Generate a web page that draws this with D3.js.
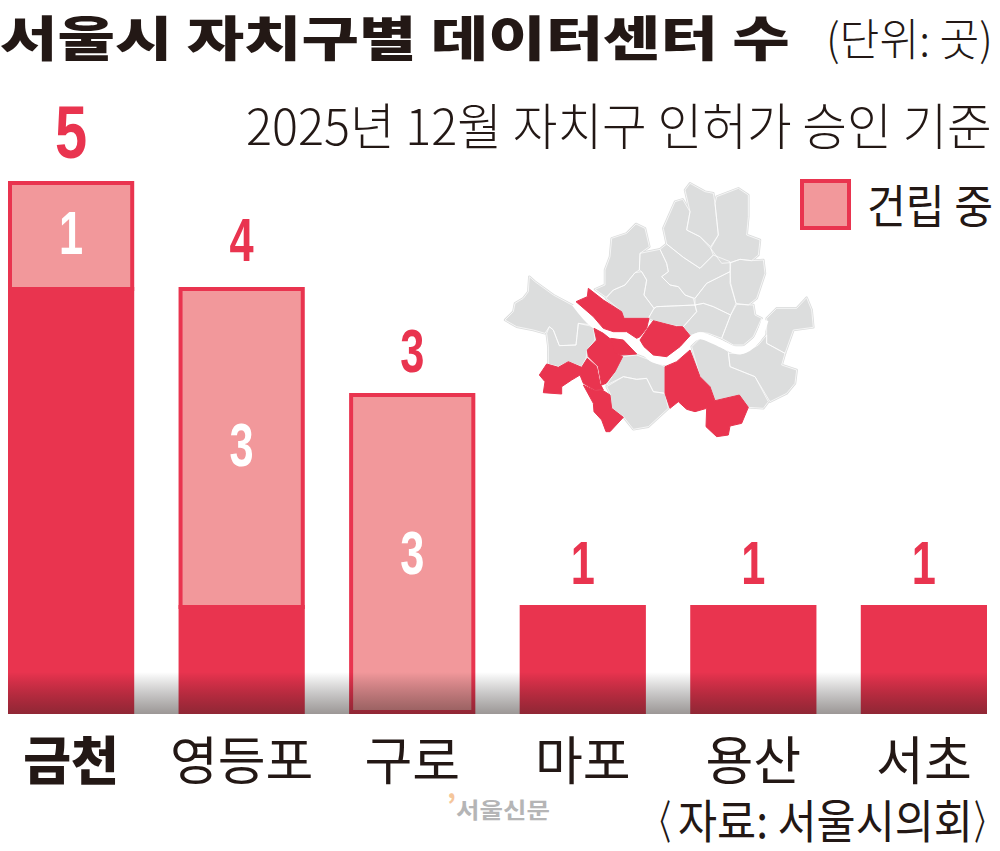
<!DOCTYPE html>
<html>
<head>
<meta charset="utf-8">
<script src="https://d3js.org/d3.v7.min.js"></script>
<style>
html, body { margin: 0; padding: 0; background: #fff; }
svg { display: block; }
text { font-family: "Noto Sans CJK KR", "Noto Sans", sans-serif; fill: #231815; }
</style>
</head>
<body>
<svg id="chart" width="1000" height="851"></svg>
<script>
var categories = ["금천", "영등포", "구로", "마포", "용산", "서초"];
var operating = [4, 1, 0, 1, 1, 1];
var building = [1, 3, 3, 0, 0, 0];
var tickValues = [0, 1, 5];

// map outlines (trace units, 3 per pixel)
var grayDistricts = [
	[[15,450],[40,425],[45,400],[70,385],[85,365],[88,320],[105,335],[160,375],[225,410],[280,465],[235,460],[228,525],[178,527],[160,480],[148,470],[135,490],[100,480],[50,470]],
	[[148,470],[160,480],[178,527],[228,525],[235,460],[280,470],[285,510],[262,540],[258,565],[245,590],[205,575],[175,590],[145,582],[145,530],[140,490]],
	[[335,205],[380,190],[408,162],[435,175],[448,230],[420,250],[418,300],[405,308],[375,345],[340,360],[318,382],[285,358],[315,345],[315,300],[330,260]],
	[[340,360],[375,345],[405,308],[425,305],[440,330],[432,375],[462,415],[445,445],[372,445],[365,425],[318,385]],
	[[420,250],[480,238],[500,280],[505,305],[485,320],[510,345],[535,350],[555,375],[580,385],[585,405],[470,410],[462,415],[432,375],[440,330],[425,305],[418,300]],
	[[462,415],[470,410],[585,405],[590,425],[550,470],[530,468],[490,460],[460,452],[445,445]],
	[[480,238],[500,222],[550,262],[600,295],[640,255],[690,275],[690,305],[620,340],[585,385],[555,375],[535,350],[510,345],[485,320],[505,305],[500,280]],
	[[490,175],[525,95],[548,88],[570,125],[560,180],[600,200],[632,235],[640,255],[600,295],[550,262],[500,222]],
	[[555,60],[570,40],[615,65],[640,70],[645,100],[655,195],[632,230],[600,200],[560,180],[570,125]],
	[[650,80],[715,55],[745,75],[745,140],[740,195],[780,210],[775,255],[755,272],[720,268],[690,278],[665,280],[632,235],[655,195],[645,100]],
	[[692,278],[720,268],[755,272],[790,270],[795,310],[770,385],[745,405],[708,400],[690,340]],
	[[690,305],[692,340],[708,400],[692,435],[640,410],[610,400],[585,405],[585,385],[620,340]],
	[[585,405],[610,400],[640,410],[692,435],[665,505],[625,490],[600,487],[570,497],[550,470],[590,425]],
	[[710,403],[760,405],[765,435],[785,445],[760,500],[730,525],[700,525],[665,505],[692,435]],
	[[800,490],[800,445],[830,415],[890,415],[920,383],[935,420],[940,472],[880,480],[855,550],[800,520]],
	[[685,550],[730,550],[775,525],[800,495],[800,520],[855,550],[845,585],[890,600],[885,640],[860,670],[810,695],[765,620],[690,590]],
	[[575,530],[600,505],[640,515],[685,545],[690,590],[765,620],[805,695],[790,715],[745,712],[718,675],[645,692],[630,650],[600,620]],
	[[345,605],[368,560],[410,555],[450,570],[495,590],[495,670],[460,665],[440,625],[410,628],[370,620],[320,645]],
	[[320,650],[370,620],[410,628],[440,625],[460,665],[495,670],[505,715],[445,770],[400,778],[370,740],[335,715],[330,670]]
];
var redDistricts = [
	[[118,615],[140,582],[175,592],[205,575],[245,592],[262,565],[290,590],[300,640],[310,660],[280,658],[250,640],[240,615],[215,630],[185,650],[185,672],[130,668],[135,635]],
	[[250,645],[280,660],[310,662],[330,675],[335,715],[370,742],[330,785],[318,785],[305,750],[282,725],[280,700]],
	[[282,475],[310,490],[335,510],[345,545],[368,560],[345,605],[318,640],[305,645],[295,590],[265,560],[262,540],[290,510]],
	[[332,505],[370,510],[410,552],[365,555],[345,548]],
	[[228,395],[262,380],[265,355],[310,390],[365,425],[372,445],[447,445],[440,475],[420,500],[410,505],[380,485],[340,485],[310,475],[280,440]],
	[[420,510],[450,465],[460,452],[490,460],[530,470],[548,470],[570,497],[540,530],[500,560],[460,555],[432,530]],
	[[495,590],[530,575],[570,540],[600,620],[630,650],[645,692],[718,675],[745,712],[725,760],[690,768],[685,795],[650,800],[618,770],[620,715],[585,725],[560,718],[535,695],[510,715],[495,670]]
];
var river = [[225,400],[280,462],[340,492],[395,500],[425,535],[460,567],[510,572],[570,512],[600,497],[670,525],[720,543],[770,510],[795,450]];

var RED = "#e9344f";
var PINK = "#f2989b";
var svg = d3.select("#chart");
var totals = categories.map(function(c, i) { return operating[i] + building[i]; });

var x = d3.scaleBand().domain(categories).range([8, 987]).paddingInner(0.26).paddingOuter(0);
var y = d3.scaleLinear().domain(tickValues).range([714, 605, 181]);

// puts text so that it is exactly len wide, squeezing it sideways like the print type
function label(txt, px, py, size, len, weight, color)
{
	var t = svg.append("text")
		.attr("font-size", size)
		.attr("font-weight", weight || 400)
		.style("fill", color || "#231815")
		.text(txt);
	var natural = t.node().getComputedTextLength();
	t.attr("transform", "translate(" + px + "," + py + ") scale(" + (len / natural) + ",1)");
	return t;
}

var defs = svg.append("defs");
var grad = defs.append("linearGradient").attr("id", "floor").attr("x1", 0).attr("y1", 0).attr("x2", 0).attr("y2", 1);
grad.append("stop").attr("offset", "0%").attr("stop-color", "#000").attr("stop-opacity", 0);
grad.append("stop").attr("offset", "100%").attr("stop-color", "#231815").attr("stop-opacity", 0.45);

// map
var mapX = d3.scaleLinear().domain([0, 960]).range([500, 820]);
var mapY = d3.scaleLinear().domain([0, 840]).range([170, 450]);
var outline = d3.line().x(function(d) { return mapX(d[0]); }).y(function(d) { return mapY(d[1]); }).curve(d3.curveLinearClosed);
var riverLine = d3.line().x(function(d) { return mapX(d[0]); }).y(function(d) { return mapY(d[1]); }).curve(d3.curveCatmullRom);

svg.append("g").selectAll("path").data(grayDistricts).enter().append("path")
	.attr("d", outline).attr("fill", "#dcdddd").attr("stroke", "#dcdddd").attr("stroke-width", 2.5).attr("stroke-linejoin", "round");
svg.append("path").attr("d", riverLine(river)).attr("fill", "none").attr("stroke", "#fff").attr("stroke-width", 7);
svg.append("g").selectAll("path").data(grayDistricts).enter().append("path")
	.attr("d", outline).attr("fill", "none").attr("stroke", "#fff").attr("stroke-width", 0.7);
svg.append("g").selectAll("path").data(redDistricts).enter().append("path")
	.attr("d", outline).attr("fill", RED).attr("stroke", RED).attr("stroke-width", 1);

// bars
svg.append("g").selectAll("rect").data(categories).enter().append("rect")
	.attr("x", function(d) { return x(d); })
	.attr("width", x.bandwidth())
	.attr("y", function(d, i) { return y(operating[i]); })
	.attr("height", function(d, i) { return y(0) - y(operating[i]); })
	.attr("fill", RED);

var bld = categories.filter(function(c, i) { return building[i] > 0; });
svg.append("g").selectAll("rect").data(bld).enter().append("rect")
	.attr("x", function(d) { return x(d) + 2; })
	.attr("width", x.bandwidth() - 4)
	.attr("y", function(d) { return y(totals[categories.indexOf(d)]) + 2; })
	.attr("height", function(d) {
		var i = categories.indexOf(d);
		// bottom stroke sinks into the solid part when there is one
		return y(operating[i]) - y(totals[i]) - (operating[i] > 0 ? 0 : 4);
	})
	.attr("fill", PINK).attr("stroke", RED).attr("stroke-width", 4);

// shadow along the floor
var floorTop = 672;
svg.append("rect")
	.attr("x", x.range()[0]).attr("width", x.range()[1] - x.range()[0])
	.attr("y", floorTop).attr("height", y(0) - floorTop)
	.attr("fill", "url(#floor)");

// totals above bars and white counts inside
var NUMFONT = '"Liberation Sans", sans-serif';
svg.append("g").selectAll("text").data(categories).enter().append("text")
	.attr("transform", function(d, i) {
		var gap = i == 0 ? 23 : (i == 1 ? 26 : 21);
		return "translate(" + (x(d) + x.bandwidth() / 2) + "," + (y(totals[i]) - gap) + ") scale(" + (i == 0 ? 0.78 : 0.7) + ",1)";
	})
	.attr("text-anchor", "middle")
	.attr("font-size", function(d, i) { return i == 0 ? 74 : 62; })
	.attr("font-weight", 700)
	.style("font-family", NUMFONT)
	.style("fill", RED)
	.text(function(d, i) { return totals[i]; });

svg.append("g").selectAll("text").data(bld).enter().append("text")
	.attr("transform", function(d) {
		var i = categories.indexOf(d);
		return "translate(" + (x(d) + x.bandwidth() / 2) + "," + ((y(operating[i]) + y(totals[i])) / 2 + 20) + ") scale(0.7,1)";
	})
	.attr("text-anchor", "middle")
	.attr("font-size", 62)
	.attr("font-weight", 700)
	.style("font-family", NUMFONT)
	.style("fill", "#fff")
	.text(function(d) { return building[categories.indexOf(d)]; });

// category axis
var axis = svg.append("g").attr("transform", "translate(0," + y(0) + ")")
	.call(d3.axisBottom(x).tickSize(0).tickPadding(29));
axis.select(".domain").remove();
axis.selectAll("text")
	.attr("font-size", 52)
	.style("font-family", '"Noto Sans CJK KR", sans-serif')
	.style("font-weight", function(d) { return d == "금천" ? 900 : 400; })
	.style("fill", "#231815");

// titles
label("서울시 자치구별 데이터센터 수", 0, 56, 48, 790, 900);
label("(단위: 곳)", 826, 56, 44, 167, 300);
label("2025년 12월 자치구 인허가 승인 기준", 246, 145, 50, 746, 300);

// legend
svg.append("rect").attr("x", 802).attr("y", 181).attr("width", 47).attr("height", 47)
	.attr("fill", PINK).attr("stroke", RED).attr("stroke-width", 4);
label("건립 중", 867, 223, 46, 126, 400);

// source and watermark
label("〈", 646, 838, 46, 25, 400);
label("자료: 서울시의회", 678, 838, 46, 295, 400);
label("〉", 974, 838, 46, 25, 400);
label("서울신문", 456, 818, 22, 94, 700, "#b5b5b6");
label("’", 447, 814, 26, 9, 900, "#f5c69a");
</script>
</body>
</html>
